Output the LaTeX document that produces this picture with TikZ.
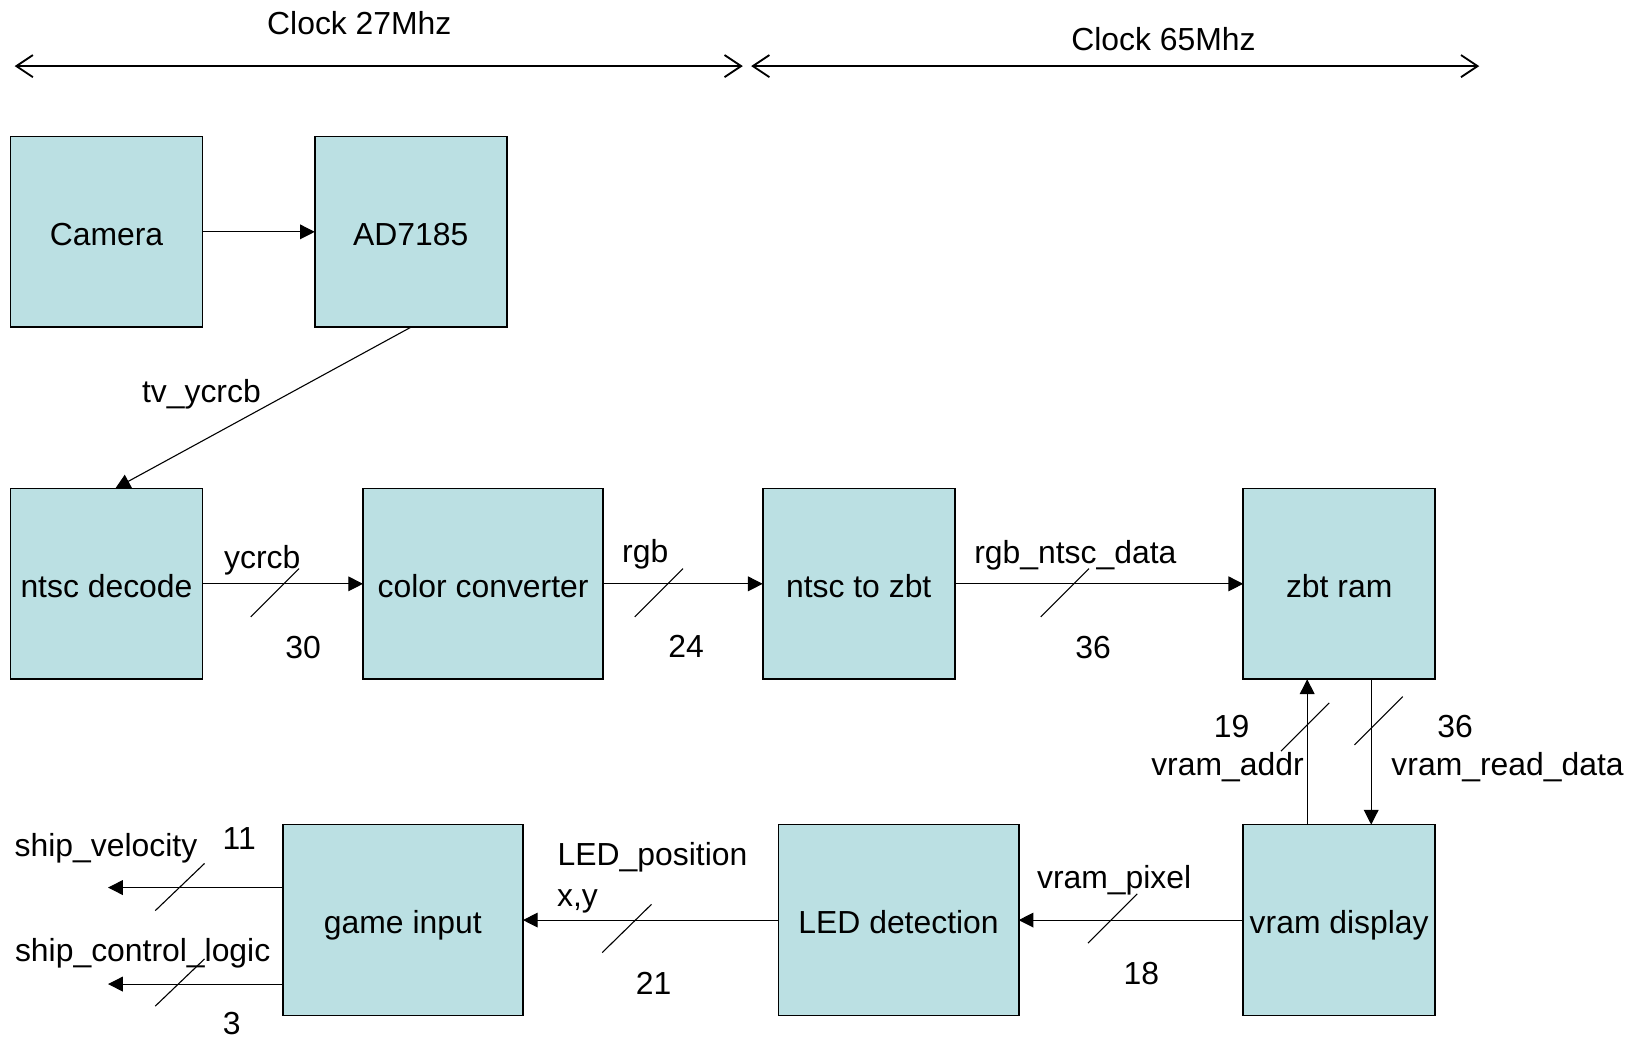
\documentclass[tikz,border=0pt]{standalone}
\usepackage{fontspec}
\setmainfont{Liberation Sans}
\usetikzlibrary{arrows.meta}
\definecolor{boxfill}{RGB}{187,224,227}
\begin{document}
\begin{tikzpicture}[x=0.02cm,y=-0.02cm,
  font=\fontsize{17.3}{20}\selectfont,
  every node/.style={text height=15.6pt,text depth=1pt},
  blk/.style={draw,line width=0.9pt,fill=boxfill,inner sep=0pt,outer sep=0pt,
    minimum width=3.66cm,minimum height=3.64cm},
  wblk/.style={blk,minimum width=4.58cm},
  arr/.style={line width=0.6pt,-{Triangle[length=8pt,width=8pt]}},
  clk/.style={line width=1pt,{Straight Barb[length=9pt,width=12pt,line width=1pt]}-{Straight Barb[length=9pt,width=12pt,line width=1pt]}},
  slash/.style={line width=0.6pt},
  lbl/.style={inner sep=0pt}]
\useasboundingbox (0,0) rectangle (1568,994);
\fill[white] (0,0) rectangle (1568,994);

% clock domains
\coordinate (c1a) at (14,63);
\coordinate (c1b) at (708,63);
\coordinate (c2a) at (716,63);
\coordinate (c2b) at (1410,63);
\draw[clk] (c1a) -- (c1b);
\draw[clk] (c2a) -- (c2b);
\node[lbl] (t27) at (342.5,20.5) {Clock 27Mhz};
\node[lbl] (t65) at (1109,35.5) {Clock 65Mhz};

% blocks
\node[blk] (cam) at (101.5,221) {Camera};
\node[blk] (ad) at (391.5,221) {AD7185};
\node[blk] (nd) at (101.5,556.5) {ntsc decode};
\node[wblk] (cc) at (460.5,556.5) {color converter};
\node[blk] (nz) at (818.5,556.5) {ntsc to zbt};
\node[blk] (zr) at (1276.5,556.5) {zbt ram};
\node[blk] (vd) at (1276.5,877) {vram display};
\node[wblk] (led) at (856.5,877) {LED detection};
\node[wblk] (gi) at (384,877) {game input};

% connectors
\draw[arr] (cam) -- (ad);
\draw[arr] (ad.south) -- ([xshift=0.17cm]nd.north);
\draw[arr] (nd) -- (cc);
\draw[arr] (cc) -- (nz);
\draw[arr] (nz) -- (zr);
\coordinate (ua) at (1246,0);
\coordinate (da) at (1307,0);
\draw[arr] (vd.north -| ua) -- (zr.south -| ua);
\draw[arr] (zr.south -| da) -- (vd.north -| da);
\draw[arr] (vd) -- (led);
\draw[arr] (led) -- (gi);
\coordinate (sv) at (103,846);
\coordinate (scl) at (103,938);
\draw[arr] (gi.west |- sv) -- (sv);
\draw[arr] (gi.west |- scl) -- (scl);

% bus-width slashes
\draw[slash] (239,588) -- (285,542);
\draw[slash] (605,588) -- (651,542);
\draw[slash] (992,588) -- (1038,542);
\draw[slash] (1221,716) -- (1267,670);
\draw[slash] (1291,710) -- (1337,664);
\draw[slash] (1037,899) -- (1084,852);
\draw[slash] (574,908) -- (621,862);
\draw[slash] (148,868) -- (195,823);
\draw[slash] (148,959) -- (195,914);

% labels
\node[lbl] (l1) at (192,371) {tv\_ycrcb};
\node[lbl] (l2) at (250,529.5) {ycrcb};
\node[lbl] (l3) at (289,614.5) {30};
\node[lbl] (l4) at (615,523.5) {rgb};
\node[lbl] (l5) at (654,614) {24};
\node[lbl] (l6) at (1025,524.5) {rgb\_ntsc\_data};
\node[lbl] (l7) at (1042,614.5) {36};
\node[lbl] (l8) at (1174,690.5) {19};
\node[lbl] (l9) at (1170,726.5) {vram\_addr};
\node[lbl] (l10) at (1387,690.5) {36};
\node[lbl] (l11) at (1437,726.5) {vram\_read\_data};
\node[lbl] (l12) at (1062,834.5) {vram\_pixel};
\node[lbl] (l13) at (1088,926) {18};
\node[lbl] (l14) at (622,812.5) {LED\_position};
\node[lbl] (l15) at (550.5,851) {x,y};
\node[lbl] (l16) at (623,935) {21};
\node[lbl] (l17) at (101,804) {ship\_velocity};
\node[lbl] (l18) at (228,797) {11};
\node[lbl] (l19) at (136,904) {ship\_control\_logic};
\node[lbl,text height=12.4pt,text depth=0pt] (l20) at (221,975) {3};
\end{tikzpicture}
\end{document}
